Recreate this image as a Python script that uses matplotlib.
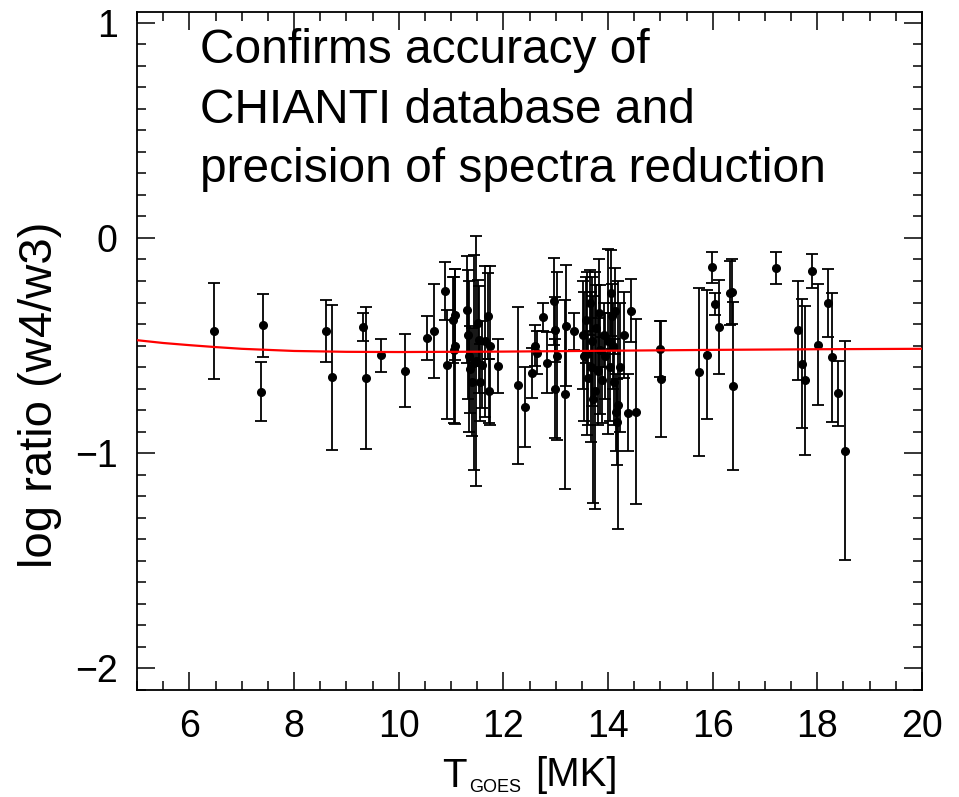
import matplotlib
matplotlib.use('Agg')
import matplotlib.pyplot as plt
from matplotlib.ticker import MultipleLocator

plt.rcParams['font.family'] = ['Liberation Sans', 'DejaVu Sans']

t_goes = [6.48, 7.41, 7.37, 8.62, 8.72, 9.32, 9.37, 9.67, 10.12, 10.54,
          10.67, 10.89, 10.93, 11.03, 11.05, 11.08, 11.08,
          11.31, 11.33, 11.35, 11.37, 11.40, 11.43, 11.48, 11.51, 11.54, 11.55,
          11.60, 11.65, 11.70, 11.72, 11.75, 11.90,
          12.28, 12.42, 12.55, 12.61, 12.65, 12.76, 12.84, 12.96, 12.98, 12.98,
          13.02, 13.19, 13.17, 13.35,
          13.52, 13.55, 13.58, 13.60, 13.62, 13.65, 13.67, 13.70, 13.72, 13.76,
          13.78, 13.80, 13.83, 13.85, 13.88, 13.92, 13.95, 14.00, 14.03, 14.06,
          14.08, 14.10, 14.12, 14.14, 14.15, 14.18, 14.20, 14.23, 14.30, 14.38,
          14.43, 14.53, 15.00, 15.01,
          15.73, 15.89, 15.98, 16.05, 16.12, 16.33, 16.37, 16.38,
          17.21, 17.64, 17.70, 17.77, 17.89, 18.02, 18.20, 18.28, 18.39, 18.53]
log_ratio = [-0.434, -0.406, -0.714, -0.432, -0.648, -0.415, -0.651, -0.546, -0.617, -0.466,
             -0.434, -0.245, -0.588, -0.383, -0.52, -0.356, -0.503,
             -0.333, -0.45, -0.55, -0.611, -0.67, -0.58, -0.573, -0.394, -0.472, -0.671,
             -0.588, -0.48, -0.364, -0.711, -0.50, -0.593,
             -0.685, -0.784, -0.627, -0.50, -0.534, -0.367, -0.580, -0.295, -0.426, -0.701,
             -0.549, -0.407, -0.727, -0.434,
             -0.45, -0.55, -0.38, -0.537, -0.65, -0.30, -0.60, -0.48, -0.75, -0.71,
             -0.42, -0.62, -0.35, -0.52, -0.66, -0.45, -0.55, -0.48, -0.60, -0.256,
             -0.364, -0.50, -0.67, -0.34, -0.81, -0.857, -0.777, -0.60, -0.45, -0.812,
             -0.338, -0.807, -0.514, -0.657,
             -0.623, -0.543, -0.137, -0.306, -0.414, -0.256, -0.25, -0.688,
             -0.14, -0.429, -0.585, -0.662, -0.153, -0.495, -0.302, -0.554, -0.722, -0.988]
ratio_err = [0.223, 0.145, 0.137, 0.145, 0.338, 0.066, 0.33, 0.077, 0.17, 0.103,
             0.218, 0.135, 0.255, 0.2, 0.34, 0.21, 0.36,
             0.25, 0.3, 0.35, 0.2, 0.25, 0.5, 0.58, 0.2, 0.25, 0.18,
             0.2, 0.35, 0.2, 0.15, 0.37, 0.125,
             0.365, 0.186, 0.115, 0.097, 0.1, 0.063, 0.142, 0.2, 0.15, 0.23,
             0.39, 0.28, 0.44, 0.086,
             0.25, 0.3, 0.2, 0.38, 0.22, 0.15, 0.35, 0.3, 0.48, 0.55,
             0.2, 0.25, 0.25, 0.3, 0.2, 0.15, 0.2, 0.43, 0.25, 0.2,
             0.15, 0.2, 0.2, 0.2, 0.18, 0.2, 0.575, 0.3, 0.2, 0.18,
             0.145, 0.43, 0.13, 0.27,
             0.39, 0.3, 0.07, 0.05, 0.22, 0.15, 0.15, 0.39,
             0.074, 0.23, 0.3, 0.345, 0.078, 0.28, 0.156, 0.3, 0.15, 0.51]

# CHIANTI theoretical curve
model_t = [5, 5.5, 6, 6.5, 7, 7.5, 8, 9, 10, 12, 14, 16, 18, 20]
model_ratio = [-0.475, -0.488, -0.498, -0.507, -0.515, -0.52, -0.525, -0.529,
               -0.53, -0.528, -0.524, -0.52, -0.517, -0.515]

fig = plt.figure(figsize=(9.59, 7.97), dpi=100)
ax = fig.add_axes([0.1429, 0.1343, 0.8185, 0.8507])

ax.errorbar(t_goes, log_ratio, yerr=ratio_err, fmt='o', color='black', ms=5.5,
            elinewidth=1.3, capsize=4, capthick=1.3, zorder=2)
ax.plot(model_t, model_ratio, color='red', lw=1.6, zorder=3)

ax.set_xlim(5, 20)
ax.set_ylim(-2.1, 1.05)
ax.xaxis.set_minor_locator(MultipleLocator(0.5))
ax.yaxis.set_minor_locator(MultipleLocator(0.1))
ax.set_xticks([6, 8, 10, 12, 14, 16, 18, 20])
ax.set_yticks([-2, -1, 0, 1])
ax.set_yticklabels(['\u22122', '\u22121', '0', '1'])
ax.tick_params(which='both', direction='in', top=True, right=True, width=1.1)
ax.tick_params(which='major', length=13, labelsize=27, pad=14)
ax.tick_params(which='minor', length=6.5)
for s in ax.spines.values():
    s.set_linewidth(1.3)

# axis titles
fig.text(40 / 959, 1 - 395 / 797, 'log ratio (w4/w3)', fontsize=34,
         rotation=90, ha='center', va='center')
fig.text(467 / 959, 1 - 787 / 797, 'T', fontsize=29, ha='right', va='baseline')
fig.text(469 / 959, 1 - 792 / 797, 'GOES', fontsize=13, ha='left', va='baseline')
fig.text(535 / 959, 1 - 786 / 797, '[MK]', fontsize=29, ha='left', va='baseline')

ax.text(6.2, 0.975, 'Confirms accuracy of\nCHIANTI database and\nprecision of spectra reduction',
        fontsize=34.5, va='top', ha='left', linespacing=1.42)

fig.savefig('out.png', dpi=100)
